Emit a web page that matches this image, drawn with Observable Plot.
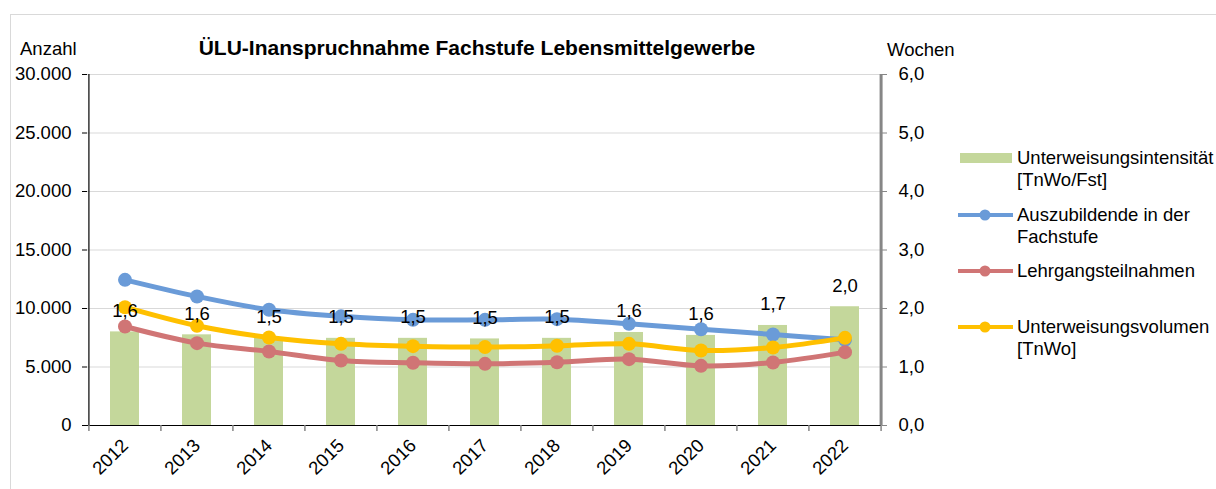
<!DOCTYPE html>
<html>
<head>
<meta charset="utf-8">
<script src="https://cdn.jsdelivr.net/npm/d3@7"></script>
<script src="https://cdn.jsdelivr.net/npm/@observablehq/plot@0.6"></script>
<style>
  html, body { margin: 0; padding: 0; background: #fff; }
  body { width: 1216px; height: 489px; position: relative; overflow: hidden; font-family: "Liberation Sans", Arial, sans-serif; color: #000; }
  #frame { position: absolute; left: 10px; top: 14px; width: 1230px; height: 500px; border: 1px solid #d9d9d9; box-sizing: border-box; }
  #chart { position: absolute; left: 0; top: 0; }
  .lbl { position: absolute; font-size: 18.5px; line-height: 22px; white-space: nowrap; }
  #title { position: absolute; left: 0; width: 954px; text-align: center; top: 36px; font-size: 21px; line-height: 24px; font-weight: bold; }
  #legend { position: absolute; left: 958px; top: 0; }
  .item { position: absolute; left: 0; font-size: 18.5px; line-height: 22px; white-space: nowrap; }
  .item svg { position: absolute; left: 0; }
  .item span { position: absolute; left: 59px; }
</style>
</head>
<body>
<div id="frame"></div>
<div id="chart"></div>
<div class="lbl" style="left:20px; top:38px;">Anzahl</div>
<div class="lbl" style="left:887px; top:39px;">Wochen</div>
<div id="title">ÜLU-Inanspruchnahme Fachstufe Lebensmittelgewerbe</div>
<div id="legend"></div>
<script>
const years = ["2012","2013","2014","2015","2016","2017","2018","2019","2020","2021","2022"];
const intensitaet = [1.6, 1.55, 1.5, 1.49, 1.49, 1.48, 1.49, 1.59, 1.54, 1.71, 2.03];
const intensitaetLabels = ["1,6","1,6","1,5","1,5","1,5","1,5","1,5","1,6","1,6","1,7","2,0"];
const auszubildende = [12450, 11030, 9890, 9330, 9030, 9030, 9090, 8690, 8230, 7780, 7320];
const lehrgang = [8460, 7040, 6330, 5560, 5360, 5270, 5410, 5670, 5100, 5390, 6270];
const volumen = [10110, 8520, 7520, 6980, 6780, 6700, 6810, 6980, 6410, 6670, 7490];
const leftTicks = [0, 5000, 10000, 15000, 20000, 25000, 30000];
const rightTicks = [0, 1, 2, 3, 4, 5, 6];

const colors = {bar: "#c4d79b", blue: "#6a9bd8", red: "#d07575", yellow: "#ffc000"};
const ratio = 5000; // 1 Woche (rechte Achse) entspricht 5.000 (linke Achse)

const bars = years.map((y, i) => ({year: y, v: intensitaet[i], label: intensitaetLabels[i]}));
const mk = arr => years.map((y, i) => ({year: y, v: arr[i]}));
const blue = mk(auszubildende), red = mk(lehrgang), yellow = mk(volumen);

const W = 1216, H = 489;
const mL = 87, mR = W - 881, mT = 74, mB = H - 425;
const step = (W - mL - mR) / years.length;
const fmtL = d3.format(",.0f");
const deL = d => fmtL(d).replace(/,/g, ".");
const FS = 18.5;

function lineMarks(data, color) {
  return [
    Plot.line(data, {x: "year", y: "v", stroke: color, strokeWidth: 5, curve: "catmull-rom"}),
    Plot.dot(data, {x: "year", y: "v", r: 7, fill: color, stroke: "none"})
  ];
}

const first = years[0], last = years[years.length - 1];

const chart = Plot.plot({
  width: W, height: H,
  marginLeft: mL, marginRight: mR, marginTop: mT, marginBottom: mB,
  style: {fontFamily: "'Liberation Sans', Arial, sans-serif", fontSize: FS + "px", background: "transparent", overflow: "visible"},
  x: {type: "band", domain: years, paddingInner: 0.6, paddingOuter: 0.3, axis: null},
  y: {domain: [0, 30000], axis: null},
  marks: [
    Plot.ruleY(leftTicks.slice(1), {stroke: "#d9d9d9", strokeWidth: 1}),
    Plot.barY(bars, {x: "year", y: d => d.v * ratio, fill: colors.bar}),
    ...lineMarks(blue, colors.blue),
    ...lineMarks(red, colors.red),
    ...lineMarks(yellow, colors.yellow),
    Plot.text(bars, {x: "year", y: d => d.v * ratio, text: "label", dy: -21, fontSize: FS, fill: "#000"}),
    // left axis
    Plot.axisY(leftTicks, {anchor: "left", label: null, tickSize: 5, tickPadding: 11, tickFormat: deL, fontSize: FS, fill: "#000", stroke: "#000"}),
    Plot.ruleX([first], {x: d => d, y1: 0, y2: 30000, dx: -step / 2, stroke: "#000", strokeWidth: 1.2}),
    // right axis
    Plot.axisY(rightTicks.map(d => d * ratio), {anchor: "right", label: null, tickSize: 5, tickPadding: 12, tickFormat: d => (d / ratio).toFixed(1).replace(".", ","), fontSize: FS, fill: "#000", stroke: "#868686"}),
    Plot.ruleX([last], {x: d => d, y1: 0, y2: 30000, dx: step / 2, stroke: "#868686", strokeWidth: 3}),
    // x axis
    Plot.ruleY([0], {stroke: "#000", strokeWidth: 1.2}),
    Plot.ruleX(years, {x: d => d, y1: 0, y2: 0, dx: -step / 2, insetBottom: -6, stroke: "#868686", strokeWidth: 1.5}),
    Plot.ruleX([last], {x: d => d, y1: 0, y2: 0, dx: step / 2, insetBottom: -6, stroke: "#868686", strokeWidth: 1.5}),
    Plot.text(years, {x: d => d, y: 0, text: d => d, rotate: -45, textAnchor: "end", lineAnchor: "middle", dx: 0, dy: 17, fontSize: FS, fill: "#000"})
  ]
});
document.getElementById("chart").appendChild(chart);

// legend
const legend = document.getElementById("legend");
const items = [
  {lines: ["Unterweisungsintensität", "[TnWo/Fst]"], type: "bar", color: colors.bar, y: 147},
  {lines: ["Auszubildende in der", "Fachstufe"], type: "line", color: colors.blue, y: 204},
  {lines: ["Lehrgangsteilnahmen"], type: "line", color: colors.red, y: 260},
  {lines: ["Unterweisungsvolumen", "[TnWo]"], type: "line", color: colors.yellow, y: 316}
];
items.forEach(it => {
  const div = document.createElement("div");
  div.className = "item";
  div.style.top = it.y + "px";
  const sw = it.type === "bar"
    ? `<svg width="56" height="22"><rect x="2" y="6" width="52" height="10" fill="${it.color}"/></svg>`
    : `<svg width="56" height="22"><line x1="0" x2="55" y1="11" y2="11" stroke="${it.color}" stroke-width="4"/><circle cx="27" cy="11" r="5.5" fill="${it.color}"/></svg>`;
  div.innerHTML = sw + `<span>${it.lines.join("<br>")}</span>`;
  legend.appendChild(div);
});
</script>
</body>
</html>
